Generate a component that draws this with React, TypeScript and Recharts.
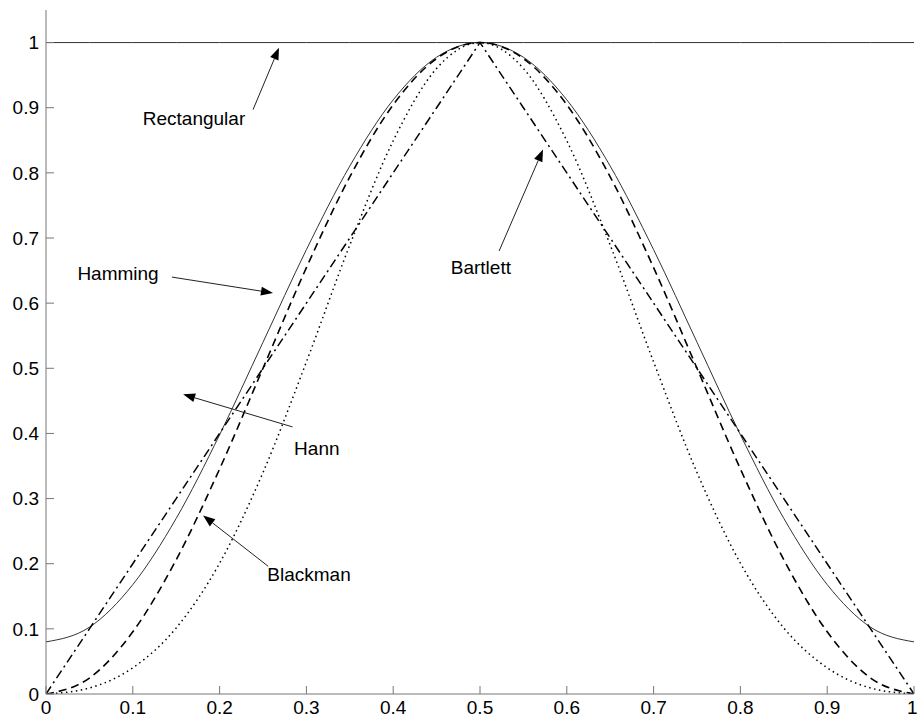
import { LineChart, Line, XAxis, YAxis, ReferenceLine, ReferenceDot } from "recharts";

document.body.style.margin = "0";

// sample positions (normalised time)
const xs = [0, 0.05, 0.1, 0.15, 0.2, 0.25, 0.3, 0.35, 0.4, 0.45, 0.5, 0.55, 0.6, 0.65, 0.7, 0.75, 0.8, 0.85, 0.9, 0.95, 1];

const rectangular = [1, 1, 1, 1, 1, 1, 1, 1, 1, 1, 1, 1, 1, 1, 1, 1, 1, 1, 1, 1, 1];
const hamming = [0.08, 0.1025, 0.1679, 0.2696, 0.3979, 0.54, 0.6821, 0.8104, 0.9121, 0.9775, 1, 0.9775, 0.9121, 0.8104, 0.6821, 0.54, 0.3979, 0.2696, 0.1679, 0.1025, 0.08];
const hann = [0, 0.0245, 0.0955, 0.2061, 0.3455, 0.5, 0.6545, 0.7939, 0.9045, 0.9755, 1, 0.9755, 0.9045, 0.7939, 0.6545, 0.5, 0.3455, 0.2061, 0.0955, 0.0245, 0];
const blackman = [0, 0.0092, 0.0402, 0.1014, 0.2008, 0.34, 0.5098, 0.6892, 0.8492, 0.9603, 1, 0.9603, 0.8492, 0.6892, 0.5098, 0.34, 0.2008, 0.1014, 0.0402, 0.0092, 0];
const bartlett = [0, 0.1, 0.2, 0.3, 0.4, 0.5, 0.6, 0.7, 0.8, 0.9, 1, 0.9, 0.8, 0.7, 0.6, 0.5, 0.4, 0.3, 0.2, 0.1, 0];

const xTicks = [0, 0.1, 0.2, 0.3, 0.4, 0.5, 0.6, 0.7, 0.8, 0.9, 1];
const yTicks = [0, 0.1, 0.2, 0.3, 0.4, 0.5, 0.6, 0.7, 0.8, 0.9, 1];

// label text, label centre, arrow tail, arrow head (data units)
const notes = [
  { text: "Rectangular", at: [0.1705, 0.884], from: [0.2385, 0.897], to: [0.2684, 0.992] },
  { text: "Hamming", at: [0.083, 0.646], from: [0.145, 0.64], to: [0.2615, 0.6156] },
  { text: "Bartlett", at: [0.501, 0.654], from: [0.522, 0.68], to: [0.5726, 0.836] },
  { text: "Hann", at: [0.312, 0.377], from: [0.284, 0.41], to: [0.158, 0.46] },
  { text: "Blackman", at: [0.303, 0.184], from: [0.256, 0.196], to: [0.181, 0.274] },
];

const data = xs.map((x, i) => ({
  x,
  rectangular: rectangular[i],
  hamming: hamming[i],
  hann: hann[i],
  blackman: blackman[i],
  bartlett: bartlett[i],
}));

const font = "'Liberation Sans', Arial, sans-serif";
const axisColor = "#777";

const Arrow = (p: any) => {
  const { x1, y1, x2, y2 } = p;
  const ang = Math.atan2(y2 - y1, x2 - x1);
  const len = 12;
  const w = 4.5;
  const bx = x2 - len * Math.cos(ang);
  const by = y2 - len * Math.sin(ang);
  const nx = -Math.sin(ang) * w;
  const ny = Math.cos(ang) * w;
  return (
    <g>
      <line x1={x1} y1={y1} x2={bx} y2={by} stroke="#222" strokeWidth={1} />
      <polygon points={`${x2},${y2} ${bx + nx},${by + ny} ${bx - nx},${by - ny}`} fill="#000" />
    </g>
  );
};

const NoteText = (text: string) => (p: any) => (
  <text x={p.cx} y={p.cy} textAnchor="middle" dominantBaseline="central" fontSize={19} fontFamily={font} fill="#000">
    {text}
  </text>
);

export default function App() {
  return (
    <LineChart width={917} height={725} data={data} margin={{ top: 10, right: 3, bottom: 0, left: 0 }}>
      <XAxis
        dataKey="x"
        type="number"
        domain={[0, 1]}
        ticks={xTicks}
        allowDataOverflow
        height={31}
        stroke={axisColor}
        tickSize={-8}
        tickMargin={15}
        tick={{ fill: "#000", fontSize: 19, fontFamily: font }}
      />
      <XAxis
        xAxisId="top"
        orientation="top"
        dataKey="x"
        type="number"
        domain={[0, 1]}
        ticks={xTicks}
        height={0}
        stroke={axisColor}
        tickSize={-8}
        tickFormatter={() => ""}
      />
      <YAxis
        type="number"
        domain={[0, 1.05]}
        ticks={yTicks}
        allowDataOverflow
        width={46}
        stroke={axisColor}
        tickSize={-8}
        tickMargin={15}
        tick={{ fill: "#000", fontSize: 19, fontFamily: font }}
      />
      <YAxis
        yAxisId="right"
        orientation="right"
        type="number"
        domain={[0, 1.05]}
        ticks={yTicks}
        width={0}
        stroke={axisColor}
        tickSize={-8}
        tickFormatter={() => ""}
      />
      <Line dataKey="rectangular" type="linear" stroke="#333" strokeWidth={1} dot={false} isAnimationActive={false} />
      <Line dataKey="hamming" type="monotone" stroke="#333" strokeWidth={1} dot={false} isAnimationActive={false} />
      <Line dataKey="hann" type="monotone" stroke="#000" strokeWidth={1.6} strokeDasharray="8 5" dot={false} isAnimationActive={false} />
      <Line dataKey="blackman" type="monotone" stroke="#000" strokeWidth={1.5} strokeDasharray="1.5 3.5" dot={false} isAnimationActive={false} />
      <Line dataKey="bartlett" type="linear" stroke="#000" strokeWidth={1.5} strokeDasharray="9 4 2 4" dot={false} isAnimationActive={false} />
      {notes.map((n) => (
        <ReferenceLine
          key={n.text + "-arrow"}
          segment={[
            { x: n.from[0], y: n.from[1] },
            { x: n.to[0], y: n.to[1] },
          ]}
          shape={Arrow}
        />
      ))}
      {notes.map((n) => (
        <ReferenceDot key={n.text} x={n.at[0]} y={n.at[1]} r={1} shape={NoteText(n.text)} />
      ))}
    </LineChart>
  );
}
